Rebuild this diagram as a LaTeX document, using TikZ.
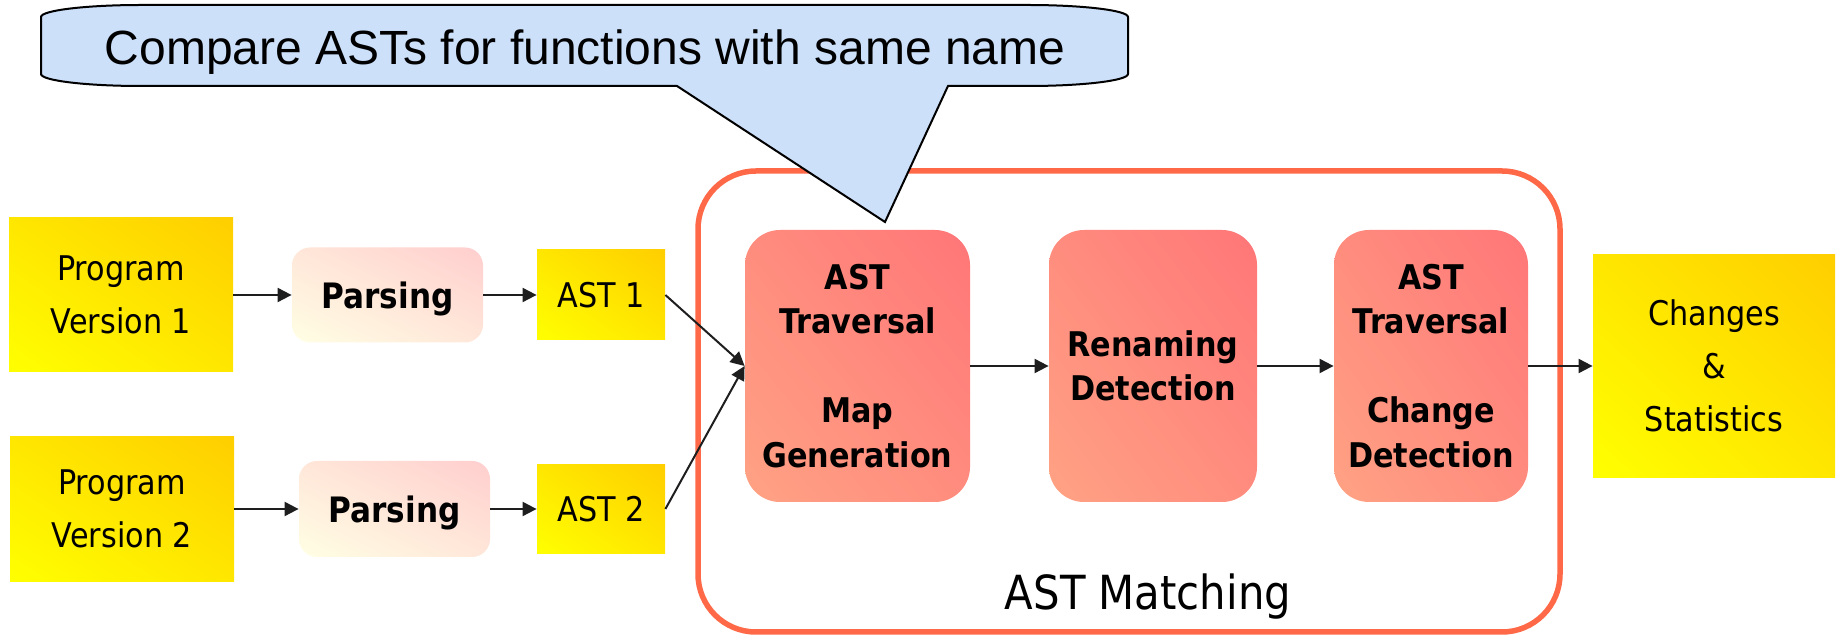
\documentclass[tikz,border=0pt]{standalone}
\usepackage{fontspec}
\usetikzlibrary{arrows.meta,shadings}
\newfontfamily\tah[FakeStretch=0.89]{DejaVu Sans}
\newfontfamily\callfont{Liberation Sans}

\definecolor{yelA}{RGB}{255,255,0}
\definecolor{yelB}{RGB}{255,206,0}
\colorlet{yelM}{yelA!50!yelB}
\definecolor{parA}{RGB}{255,255,228}
\definecolor{parB}{RGB}{255,206,206}
\colorlet{parM}{parA!50!parB}
\definecolor{salA}{RGB}{255,162,132}
\definecolor{salB}{RGB}{255,118,120}
\colorlet{salM}{salA!50!salB}
\definecolor{frameorange}{RGB}{255,105,72}
\definecolor{callblue}{RGB}{204,224,250}
\definecolor{arrowgray}{RGB}{30,30,30}

\tikzset{
  yelbox/.style={shading=bilinear interpolation,
    lower left=yelA, upper right=yelB, upper left=yelM, lower right=yelM,
    inner sep=0pt, align=center,
    font=\tah\fontsize{17}{26.5}\selectfont},
  parsebox/.style={shading=bilinear interpolation,
    lower left=parA, upper right=parB, upper left=parM, lower right=parM,
    rounded corners=9pt, inner sep=0pt, align=center, text depth=0pt,
    font=\tah\bfseries\fontsize{17.5}{22.25}\selectfont},
  stagebox/.style={shading=bilinear interpolation,
    lower left=salA, upper right=salB, upper left=salM, lower right=salM,
    rounded corners=17.5pt, inner sep=0pt, align=center,
    minimum height=136pt,
    font=\tah\bfseries\fontsize{17}{22.25}\selectfont},
  framebox/.style={draw=frameorange, line width=2.75pt, rounded corners=29pt,
    inner sep=0pt},
  arr/.style={draw=arrowgray, line width=1pt,
    -{Triangle[length=7pt,width=7pt]}},
}

\begin{document}
\begin{tikzpicture}[x=0.5pt, y=-0.5pt]
\useasboundingbox (0,0) rectangle (1843,635);

% container of the matching stages
\node[framebox, minimum width=431pt, minimum height=230.5pt] (match) at (1129,401.5) {};
\node[font=\tah\fontsize{23.5}{28}\selectfont, anchor=base] (matchlbl) at (1148,610) {AST Matching};

% inputs
\node[yelbox, minimum width=112pt, minimum height=77pt] (pv1) at (121,295) {Program\\Version 1};
\node[yelbox, minimum width=112pt, minimum height=72.5pt] (pv2) at (122,509) {Program\\Version 2};

% parsers
\node[parsebox, minimum width=95.5pt, minimum height=47.5pt] (parse1) at (387.5,295) {Parsing};
\node[parsebox, minimum width=95.5pt, minimum height=48pt] (parse2) at (394.5,509) {Parsing};

% trees
\node[yelbox, minimum width=64pt, minimum height=45pt] (ast1) at (601,295) {AST 1};
\node[yelbox, minimum width=64pt, minimum height=44.5pt] (ast2) at (601,509) {AST 2};

% matching stages
\node[stagebox, minimum width=112.5pt] (mapgen) at (857.5,366) {AST\\Traversal\\~\\Map\\Generation};
\node[stagebox, minimum width=104pt] (rename) at (1153,366) {Renaming\\Detection};
\node[stagebox, minimum width=97pt] (change) at (1431,366) {AST\\Traversal\\~\\Change\\Detection};

% output
\node[yelbox, minimum width=121pt, minimum height=111.5pt] (result) at (1714,366) {Changes\\\&\\Statistics};

% connectors
\draw[arr] (pv1) -- (parse1);
\draw[arr] (pv2) -- (parse2);
\draw[arr] (parse1) -- (ast1);
\draw[arr] (parse2) -- (ast2);
\draw[arr] (ast1.east) -- (mapgen.west);
\draw[arr] (ast2.east) -- (mapgen.west);
\draw[arr] (mapgen) -- (rename);
\draw[arr] (rename) -- (change);
\draw[arr] (change) -- (result);

% speech bubble
\path[fill=callblue, draw=black, line width=1pt, line join=miter]
  (41,17) .. controls (41,10.4) and (86,5) .. (141,5)
  -- (1028,5) .. controls (1083,5) and (1128,10.4) .. (1128,17)
  -- (1128,74) .. controls (1128,80.6) and (1083,86) .. (1028,86)
  -- (948,86) -- (885,222) -- (677,86)
  -- (141,86) .. controls (86,86) and (41,80.6) .. (41,74) -- cycle;
\node[font=\callfont\fontsize{24}{28}\selectfont, anchor=base] (calltext) at (585,65)
  {Compare ASTs for functions with same name};
\end{tikzpicture}
\end{document}
